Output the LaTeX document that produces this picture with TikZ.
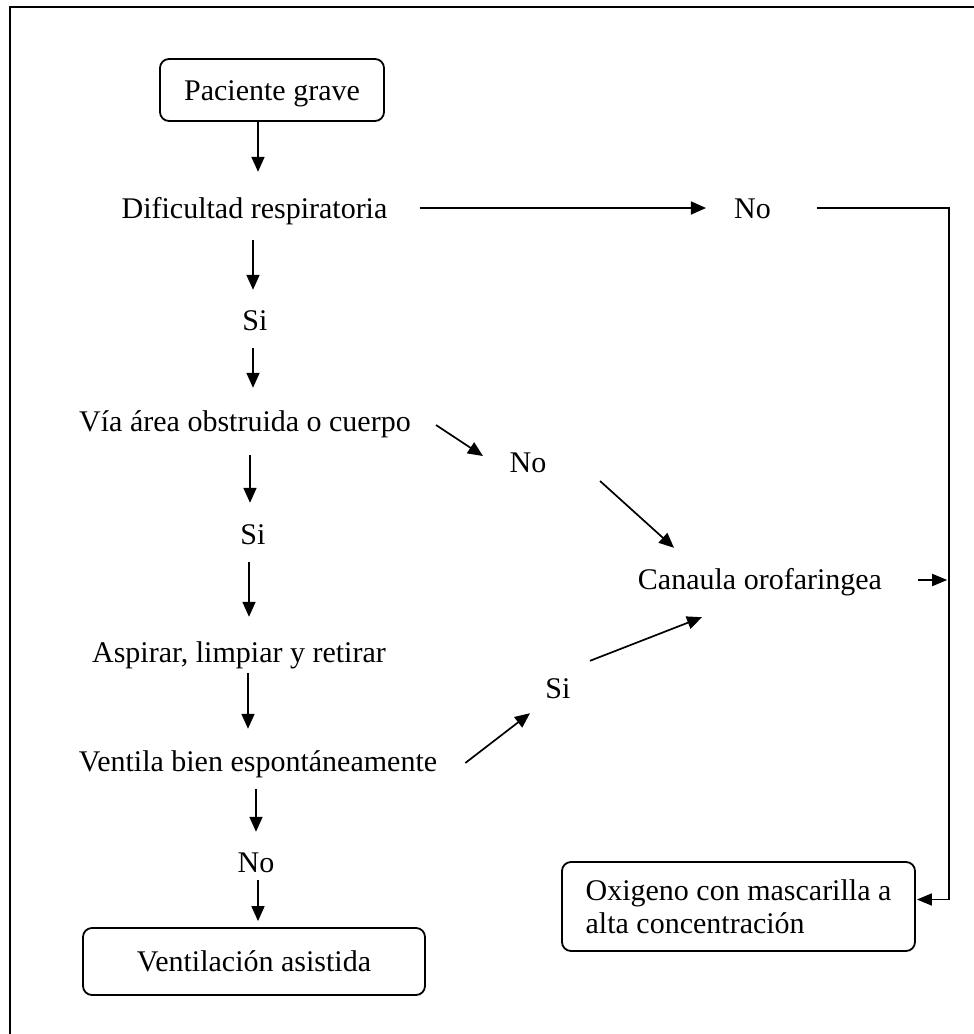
\documentclass[tikz,border=0pt]{standalone}
\usepackage{fontspec}
\setmainfont{Liberation Serif}
\usetikzlibrary{arrows.meta,calc}
\begin{document}
\begin{tikzpicture}[x=1pt,y=-1pt,
  txt/.style={inner sep=0pt,text height=20pt,text depth=0pt,font=\fontsize{30}{33}\selectfont},
  boxnode/.style={draw,line width=1.8pt,rounded corners=9pt,inner sep=0pt,text height=20pt,text depth=0pt,font=\fontsize{30}{33}\selectfont},
  arr/.style={line width=1.7pt,-{Triangle[length=15pt,width=13pt]}},
  sarr/.style={line width=1.7pt,-{Triangle[length=15pt,width=12pt]}},
  ln/.style={line width=1.7pt}]
\useasboundingbox (0,0) rectangle (974,1034);
\fill[white] (0,0) rectangle (974,1034);
\draw[line width=2pt] (10,1050) -- (10,7) -- (990,7);

\node[boxnode,minimum width=224pt,minimum height=62pt] (pac) at (272,90) {Paciente grave};
\node[txt] (dif) at (254.5,208) {Dificultad respiratoria};
\node[txt] (no1) at (752.5,208) {No};
\node[txt] (si1) at (255,320) {Si};
\node[txt] (via) at (245,421) {Vía área obstruida o cuerpo};
\node[txt] (si2) at (253,534) {Si};
\node[txt] (asp) at (239,652) {Aspirar, limpiar y retirar};
\node[txt] (ven) at (258,761) {Ventila bien espontáneamente};
\node[txt] (no3) at (256,862) {No};
\node[txt] (no2) at (528,462) {No};
\node[txt] (can) at (760,579) {Canaula orofaringea};
\node[txt] (si3) at (558,688) {Si};
\node[boxnode,minimum width=342pt,minimum height=67pt] (va) at (254,961.5) {Ventilación asistida};
\node[boxnode,minimum width=353pt,minimum height=89pt,align=left,text height=,text depth=] (oxi) at (738.5,906.5) {Oxigeno con mascarilla a\\alta concentración};

\draw[arr] ($(pac.south)+(-14,0)$) -- ($(dif.north)+(3.5,-26)$);
\draw[arr] ($(dif.east)+(32,0)$) -- ($(no1.west)+(-28,0)$);
\draw[sarr] ($(no1.east)+(46,0)$) -| ($(oxi.east)+(33,-7)$) -- ($(oxi.east)+(1,-7)$);
\draw[arr] ($(dif.south)+(-1.5,22)$) -- ($(si1.north)+(-2,-20)$);
\draw[arr] ($(si1.south)+(-2,18)$) -- ($(via.north)+(8,-23)$);
\draw[arr] ($(via.south)+(5,24)$) -- ($(si2.north)+(-3,-21)$);
\draw[arr] ($(si2.south)+(-4,18)$) -- ($(asp.north)+(10,-25)$);
\draw[arr] ($(asp.south)+(9,11)$) -- ($(ven.north)+(-10,-22)$);
\draw[arr] ($(ven.south)+(-2,18)$) -- ($(no3.north)+(0,-20)$);
\draw[arr] ($(no3.south)+(2,8)$) -- ($(va.north)+(4,-6)$);
\draw[arr] ($(via.east)+(25,4)$) -- ($(no2.west)+(-26.5,-6)$);
\draw[arr] ($(no2.east)+(53.5,19)$) -- ($(can.north)+(-86,-21)$);
\draw[sarr] ($(can.east)+(36,1)$) -- ($(can.east)+(65,1)$);
\draw[arr] ($(ven.east)+(28,2)$) -- ($(si3.south)+(-28,15)$);
\draw[arr] ($(si3.north)+(32,-17)$) -- ($(can.south)+(-58,28)$);
\end{tikzpicture}
\end{document}
